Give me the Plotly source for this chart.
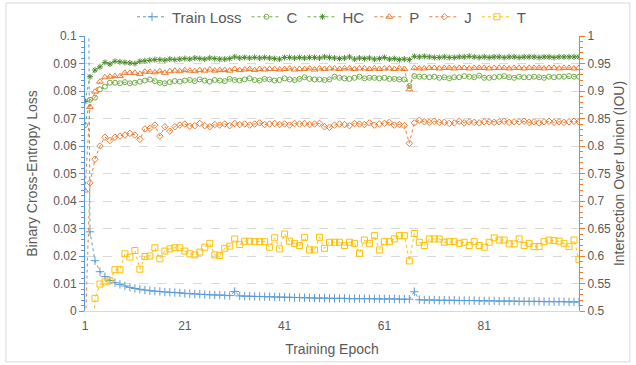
import plotly.graph_objects as go

epochs = list(range(1, 101))

train_loss = [
    0.35, 0.0288, 0.0183, 0.0143, 0.0125, 0.0111, 0.0103, 0.0097, 0.0091, 0.0086,
    0.0082, 0.0079, 0.0076, 0.0074, 0.0072, 0.0071, 0.0069, 0.0068, 0.0067, 0.0066,
    0.0064, 0.0063, 0.0062, 0.0061, 0.0060, 0.0059, 0.0058, 0.0058, 0.0057, 0.0056,
    0.0071, 0.0055, 0.0054, 0.0054, 0.0053, 0.0053, 0.0052, 0.0052, 0.0051, 0.0051,
    0.0050, 0.0050, 0.0049, 0.0049, 0.0048, 0.0048, 0.0047, 0.0047, 0.0047, 0.0046,
    0.0046, 0.0046, 0.0046, 0.0045, 0.0045, 0.0045, 0.0045, 0.0045, 0.0044, 0.0044,
    0.0044, 0.0044, 0.0044, 0.0043, 0.0043, 0.0043, 0.0070, 0.0041, 0.0040, 0.0040,
    0.0040, 0.0039, 0.0039, 0.0039, 0.0039, 0.0038, 0.0038, 0.0038, 0.0038, 0.0037,
    0.0037, 0.0037, 0.0037, 0.0036, 0.0036, 0.0036, 0.0036, 0.0035, 0.0035, 0.0035,
    0.0035, 0.0035, 0.0034, 0.0034, 0.0034, 0.0034, 0.0034, 0.0033, 0.0033, 0.0033,
]

iou_c = [
    0.838, 0.884, 0.888, 0.903, 0.908, 0.915, 0.915, 0.914, 0.916, 0.914,
    0.915, 0.917, 0.919, 0.921, 0.918, 0.915, 0.914, 0.916, 0.918, 0.917,
    0.919, 0.920, 0.918, 0.921, 0.919, 0.917, 0.920, 0.919, 0.918, 0.922,
    0.920, 0.919, 0.921, 0.923, 0.920, 0.919, 0.922, 0.921, 0.919, 0.920,
    0.923, 0.921, 0.920, 0.922, 0.925, 0.922, 0.921, 0.921, 0.920, 0.921,
    0.926, 0.924, 0.923, 0.922, 0.924, 0.926, 0.923, 0.924, 0.924, 0.923,
    0.924, 0.922, 0.922, 0.921, 0.921, 0.909, 0.927, 0.926, 0.926, 0.925,
    0.926, 0.924, 0.925, 0.923, 0.925, 0.925, 0.927, 0.926, 0.925, 0.928,
    0.924, 0.924, 0.925, 0.926, 0.927, 0.925, 0.924, 0.926, 0.925, 0.925,
    0.926, 0.925, 0.924, 0.926, 0.925, 0.926, 0.926, 0.927, 0.926, 0.926,
]

iou_hc = [
    0.881, 0.926, 0.938, 0.944, 0.952, 0.949, 0.954, 0.953, 0.952, 0.951,
    0.950, 0.954, 0.955, 0.956, 0.957, 0.957, 0.956, 0.958, 0.957, 0.958,
    0.959, 0.958, 0.960, 0.959, 0.958, 0.960, 0.959, 0.958, 0.958, 0.959,
    0.962, 0.960, 0.961, 0.960, 0.961, 0.960, 0.961, 0.960, 0.959, 0.958,
    0.961, 0.961, 0.960, 0.961, 0.960, 0.961, 0.961, 0.960, 0.962, 0.961,
    0.960, 0.959, 0.960, 0.962, 0.958, 0.960, 0.959, 0.960, 0.958, 0.959,
    0.961, 0.958, 0.959, 0.957, 0.958, 0.957, 0.963, 0.962, 0.963, 0.962,
    0.961, 0.961, 0.962, 0.961, 0.961, 0.962, 0.962, 0.963, 0.962, 0.961,
    0.962, 0.961, 0.962, 0.962, 0.961, 0.962, 0.962, 0.961, 0.962, 0.962,
    0.962, 0.961, 0.962, 0.962, 0.961, 0.962, 0.962, 0.962, 0.962, 0.962,
]

iou_p = [
    0.719, 0.871, 0.899, 0.917, 0.925, 0.926, 0.927, 0.927, 0.933, 0.933,
    0.933, 0.931, 0.935, 0.935, 0.934, 0.936, 0.933, 0.936, 0.937, 0.936,
    0.938, 0.937, 0.936, 0.938, 0.937, 0.939, 0.937, 0.938, 0.938, 0.937,
    0.940, 0.938, 0.939, 0.940, 0.938, 0.940, 0.939, 0.940, 0.940, 0.939,
    0.940, 0.941, 0.939, 0.940, 0.940, 0.941, 0.939, 0.941, 0.940, 0.941,
    0.941, 0.940, 0.941, 0.941, 0.940, 0.941, 0.941, 0.940, 0.941, 0.940,
    0.941, 0.941, 0.940, 0.941, 0.940, 0.903, 0.942, 0.941, 0.941, 0.942,
    0.942, 0.941, 0.942, 0.942, 0.941, 0.942, 0.942, 0.941, 0.942, 0.942,
    0.942, 0.941, 0.942, 0.942, 0.942, 0.941, 0.942, 0.942, 0.941, 0.942,
    0.942, 0.942, 0.941, 0.942, 0.942, 0.941, 0.942, 0.942, 0.941, 0.942,
]

iou_j = [
    0.450, 0.733, 0.776, 0.800, 0.816, 0.810, 0.816, 0.818, 0.820, 0.823,
    0.820, 0.812, 0.831, 0.832, 0.838, 0.818, 0.835, 0.827, 0.835, 0.838,
    0.840, 0.836, 0.837, 0.841, 0.837, 0.835, 0.839, 0.838, 0.840, 0.837,
    0.841, 0.839, 0.840, 0.838, 0.840, 0.842, 0.839, 0.840, 0.841, 0.839,
    0.840, 0.838, 0.841, 0.840, 0.841, 0.839, 0.840, 0.841, 0.835, 0.834,
    0.838, 0.840, 0.839, 0.837, 0.841, 0.840, 0.839, 0.842, 0.838, 0.840,
    0.841, 0.843, 0.838, 0.839, 0.837, 0.805, 0.842, 0.847, 0.844, 0.843,
    0.845, 0.843, 0.843, 0.841, 0.842, 0.845, 0.842, 0.844, 0.843, 0.842,
    0.844, 0.844, 0.843, 0.844, 0.845, 0.843, 0.844, 0.844, 0.845, 0.843,
    0.844, 0.842, 0.844, 0.845, 0.843, 0.844, 0.843, 0.844, 0.845, 0.844,
]

iou_t = [
    0.200, 0.300, 0.523, 0.549, 0.553, 0.555, 0.575, 0.575, 0.604, 0.598,
    0.610, 0.576, 0.599, 0.600, 0.615, 0.595, 0.609, 0.613, 0.615, 0.615,
    0.609, 0.604, 0.602, 0.607, 0.616, 0.623, 0.602, 0.601, 0.614, 0.618,
    0.631, 0.621, 0.627, 0.627, 0.626, 0.626, 0.626, 0.616, 0.633, 0.613,
    0.640, 0.627, 0.623, 0.619, 0.634, 0.611, 0.611, 0.634, 0.614, 0.625,
    0.625, 0.625, 0.619, 0.625, 0.623, 0.605, 0.629, 0.623, 0.637, 0.611,
    0.626, 0.626, 0.631, 0.637, 0.637, 0.591, 0.641, 0.625, 0.619, 0.631,
    0.631, 0.631, 0.625, 0.626, 0.626, 0.623, 0.625, 0.619, 0.626, 0.619,
    0.616, 0.625, 0.633, 0.629, 0.629, 0.622, 0.622, 0.631, 0.619, 0.623,
    0.617, 0.617, 0.626, 0.629, 0.628, 0.627, 0.623, 0.617, 0.629, 0.594,
]

x_ticks = [1, 21, 41, 61, 81]

BLUE = "#5B9BD5"
GREEN = "#70AD47"
DKGREEN = "#4E8A2E"
ORANGE = "#ED7D31"
GOLD = "#FFC000"
TXT = "#595959"
FONT = "Liberation Sans, Arial, sans-serif"

fig = go.Figure()

def add(name, y, color, symbol, size, axis, mcolor=None):
    fig.add_trace(go.Scatter(
        x=epochs, y=y, name=name, mode="lines+markers", yaxis=axis,
        line=dict(color=color, width=1, dash="dot"),
        marker=dict(symbol=symbol, size=size, color=mcolor or color,
                    line=dict(color=mcolor or color, width=1)),
        cliponaxis=True,
    ))

add("Train Loss", train_loss, BLUE, "cross-thin-open", 6, "y")
add("C", iou_c, GREEN, "circle-open", 5, "y2")
add("HC", iou_hc, GREEN, "asterisk-open", 5, "y2", DKGREEN)
add("P", iou_p, ORANGE, "triangle-up-open", 6, "y2")
add("J", iou_j, ORANGE, "diamond-open", 5, "y2")
add("T", iou_t, GOLD, "square-open", 6, "y2")

fig.update_layout(
    width=636, height=365,
    margin=dict(l=85, r=57, t=36, b=54, autoexpand=False),
    paper_bgcolor="white", plot_bgcolor="white",
    font=dict(family=FONT, color=TXT, size=12),
    showlegend=True,
    legend=dict(orientation="h", x=0.5, xanchor="center", y=1.069, yanchor="middle",
                font=dict(size=15, color=TXT), itemwidth=30, bgcolor="rgba(0,0,0,0)"),
    xaxis=dict(
        range=[1, 100], tickmode="array", tickvals=x_ticks,
        ticktext=[str(v) for v in x_ticks], showgrid=False, zeroline=False,
        showline=True, linecolor="#D9D9D9", linewidth=1,
        ticks="outside", ticklen=4, tickcolor="rgba(0,0,0,0)",
        tickfont=dict(size=12, color=TXT),
        title=dict(text="Training Epoch", font=dict(size=14, color=TXT), standoff=11),
    ),
    yaxis=dict(
        range=[0, 0.1], dtick=0.01, tick0=0, showgrid=True, gridcolor="#D9D9D9",
        griddash="dash", zeroline=False, showline=True, linecolor=BLUE, linewidth=1,
        ticks="outside", ticklen=5, tickcolor=BLUE,
        minor=dict(dtick=0.002, ticks="outside", ticklen=3, tickcolor=BLUE, showgrid=False),
        tickfont=dict(size=12, color=TXT),
        title=dict(text="Binary Cross-Entropy Loss", font=dict(size=14, color=TXT), standoff=12),
    ),
    yaxis2=dict(
        range=[0.5, 1], dtick=0.05, tick0=0.5, overlaying="y", side="right",
        showgrid=False, zeroline=False, showline=True, linecolor=ORANGE, linewidth=1,
        ticks="outside", ticklen=5, tickcolor=ORANGE,
        minor=dict(dtick=0.01, ticks="outside", ticklen=3, tickcolor=ORANGE, showgrid=False),
        tickfont=dict(size=12, color=TXT),
        title=dict(text="Intersection Over Union (IOU)", font=dict(size=14, color=TXT), standoff=4),
    ),
)

fig.add_shape(type="rect", xref="paper", yref="paper",
              x0=-0.16, x1=1.103, y0=-0.185, y1=1.12,
              line=dict(color="#D9D9D9", width=1), fillcolor="rgba(0,0,0,0)", layer="below")

fig.write_html("out.html", config={"displayModeBar": False},
               post_script="document.body.style.margin='0';document.body.style.overflow='hidden';")
